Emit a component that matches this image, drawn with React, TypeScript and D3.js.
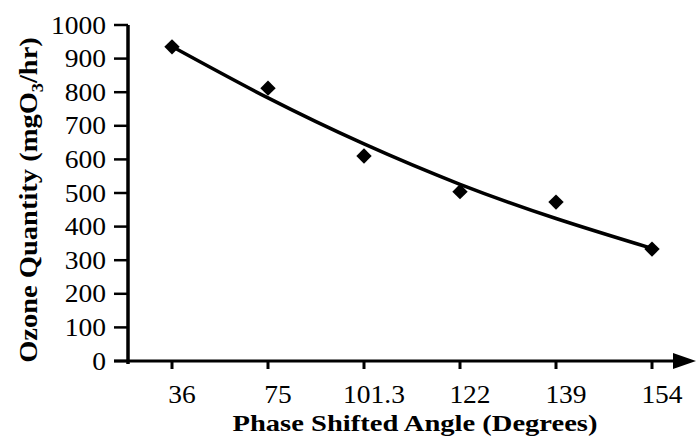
import React from "react";
import * as d3 from "d3";

const categories = ["36", "75", "101.3", "122", "139", "154"];
const ozone = [935, 812, 610, 504, 473, 333];
const trend = [936, 783, 646, 526, 424, 335];
const yTicks = [0, 100, 200, 300, 400, 500, 600, 700, 800, 900, 1000];

const W = 696;
const H = 437;
const FONT = "'Liberation Serif', 'Times New Roman', serif";

export default function App() {
  const x = d3.scalePoint<string>().domain(categories).range([172, 652]);
  const y = d3.scaleLinear().domain([0, 1000]).range([361, 25]);
  const axisX = 128;
  const axisY = y(0);

  const line = d3
    .line<number>()
    .x((_, i) => x(categories[i]) as number)
    .y((d) => y(d))
    .curve(d3.curveNatural);

  const diamond = d3.symbol().type(d3.symbolSquare).size(118)() as string;

  return (
    <svg
      width={W}
      height={H}
      style={{ position: "absolute", left: 0, top: 0, background: "#fff" }}
      fontFamily={FONT}
    >
      <rect width={W} height={H} fill="#fff" />
      {/* y axis */}
      <line x1={axisX} x2={axisX} y1={y(1000)} y2={axisY + 3} stroke="#000" strokeWidth={3.5} />
      {yTicks.map((t) => (
        <g key={t}>
          <line x1={axisX - 14} x2={axisX} y1={y(t)} y2={y(t)} stroke="#000" strokeWidth={2.5} />
          <text
            transform={`translate(106,${y(t)}) scale(1.1,1)`}
            dy="0.34em"
            textAnchor="end"
            fontSize={25}
            fill="#000"
          >
            {t}
          </text>
        </g>
      ))}
      {/* x axis */}
      <line x1={axisX - 14} x2={676} y1={axisY} y2={axisY} stroke="#000" strokeWidth={3} />
      <path
        d={`M${673},${axisY - 8} L${696},${axisY} L${673},${axisY + 8} Z`}
        fill="#000"
      />
      {categories.map((c) => (
        <g key={c}>
          <line
            x1={x(c) as number}
            x2={x(c) as number}
            y1={axisY}
            y2={axisY + 8}
            stroke="#000"
            strokeWidth={3}
          />
          <text
            transform={`translate(${(x(c) as number) + 10},403) scale(1.1,1)`}
            textAnchor="middle"
            fontSize={25}
            fill="#000"
          >
            {c}
          </text>
        </g>
      ))}
      {/* trend line */}
      <path d={line(trend) as string} fill="none" stroke="#000" strokeWidth={3.5} />
      {/* markers */}
      {ozone.map((v, i) => (
        <path
          key={i}
          d={diamond}
          transform={`translate(${x(categories[i])},${y(v)}) rotate(45)`}
          fill="#000"
        />
      ))}
      {/* axis titles */}
      <text
        transform="translate(415,431) scale(1.19,1)"
        textAnchor="middle"
        fontSize={24}
        fontWeight="bold"
        fill="#000"
      >
        Phase Shifted Angle (Degrees)
      </text>
      <text
        transform={`translate(37,200) rotate(-90) scale(1.14,1)`}
        textAnchor="middle"
        fontSize={25}
        fontWeight="bold"
        fill="#000"
      >
        Ozone Quantity (mgO
        <tspan fontSize={16} dy={6}>3</tspan>
        <tspan dy={-6}>/hr)</tspan>
      </text>
    </svg>
  );
}
